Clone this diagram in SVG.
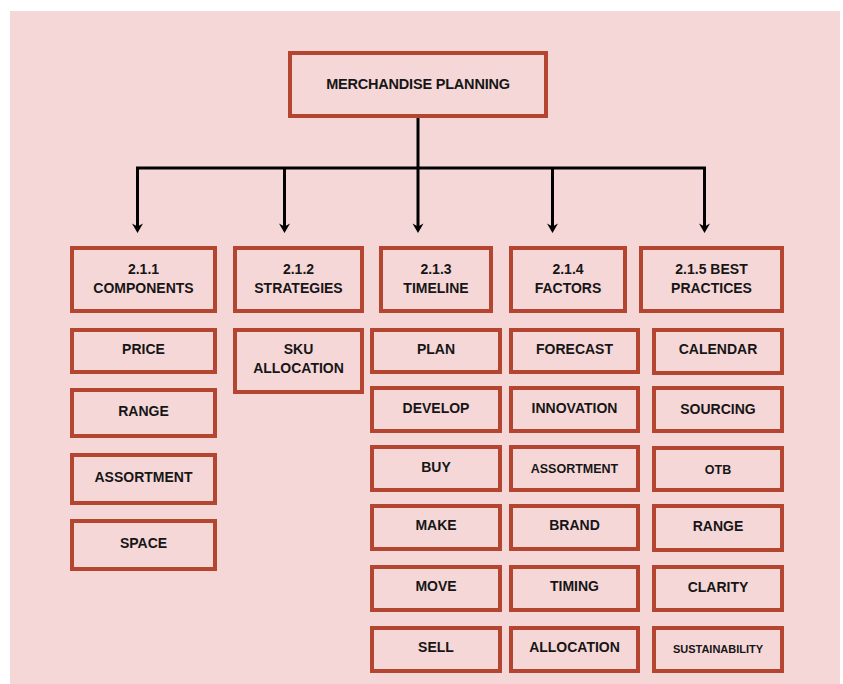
<svg xmlns="http://www.w3.org/2000/svg" width="843" height="684" viewBox="0 0 843 684">
<defs>
<style>
.box{fill:none;stroke:#b44531;stroke-width:4}
.t{font-family:"Liberation Sans",Arial,sans-serif;font-weight:bold;font-size:14px;fill:#161616;text-anchor:middle}
.s{font-size:12.5px}
.xs{font-size:11px}
.ttl{font-size:14.5px;letter-spacing:-0.2px}
.ln{stroke:#000;stroke-width:3;fill:none}
</style>
<marker id="ah" markerWidth="12" markerHeight="12" refX="7" refY="6" orient="auto" markerUnits="userSpaceOnUse" viewBox="0 0 12 12">
<path d="M1.5,0.5 L11,6 L1.5,11.5 L4.5,6 Z" fill="#000"/>
</marker>
</defs>
<rect x="0" y="0" width="843" height="684" fill="#ffffff"/>
<rect x="10" y="11" width="830" height="673" fill="#f6d7d8"/>

<g id="connectors">
<line class="ln" x1="418" y1="117" x2="418" y2="168"/>
<line class="ln" x1="136" y1="168" x2="706" y2="168"/>
<line class="ln" x1="137.5" y1="168" x2="137.5" y2="229" marker-end="url(#ah)"/>
<line class="ln" x1="284.5" y1="168" x2="284.5" y2="229" marker-end="url(#ah)"/>
<line class="ln" x1="418" y1="168" x2="418" y2="229" marker-end="url(#ah)"/>
<line class="ln" x1="552.5" y1="168" x2="552.5" y2="229" marker-end="url(#ah)"/>
<line class="ln" x1="704.5" y1="168" x2="704.5" y2="229" marker-end="url(#ah)"/>
</g>

<g id="root"><rect class="box" x="290" y="53" width="256" height="63"/><text class="t ttl" x="418" y="89">MERCHANDISE PLANNING</text></g>

<g id="h1"><rect class="box" x="72" y="248" width="143" height="63"/><text class="t" x="143.5" y="274">2.1.1</text><text class="t" x="143.5" y="293">COMPONENTS</text></g>
<g id="h2"><rect class="box" x="235" y="248" width="127" height="63"/><text class="t" x="298.5" y="274">2.1.2</text><text class="t" x="298.5" y="293">STRATEGIES</text></g>
<g id="h3"><rect class="box" x="381" y="248" width="110" height="63"/><text class="t" x="436" y="274">2.1.3</text><text class="t" x="436" y="293">TIMELINE</text></g>
<g id="h4"><rect class="box" x="511" y="248" width="114" height="63"/><text class="t" x="568" y="274">2.1.4</text><text class="t" x="568" y="293">FACTORS</text></g>
<g id="h5"><rect class="box" x="641" y="248" width="141" height="63"/><text class="t" x="711.5" y="274">2.1.5 BEST</text><text class="t" x="711.5" y="293">PRACTICES</text></g>

<g id="c1-price"><rect class="box" x="72" y="330" width="143" height="42"/><text class="t" x="143.5" y="354">PRICE</text></g>
<g id="c1-range"><rect class="box" x="72" y="390" width="143" height="46"/><text class="t" x="143.5" y="416">RANGE</text></g>
<g id="c1-assortment"><rect class="box" x="72" y="455" width="143" height="48"/><text class="t" x="143.5" y="482">ASSORTMENT</text></g>
<g id="c1-space"><rect class="box" x="72" y="521" width="143" height="48"/><text class="t" x="143.5" y="548">SPACE</text></g>

<g id="c2-sku"><rect class="box" x="235" y="330" width="127" height="62"/><text class="t" x="298.5" y="354">SKU</text><text class="t" x="298.5" y="373">ALLOCATION</text></g>

<g id="c3-plan"><rect class="box" x="372" y="330" width="128" height="42"/><text class="t" x="436" y="354">PLAN</text></g>
<g id="c3-develop"><rect class="box" x="372" y="388" width="128" height="43"/><text class="t" x="436" y="413">DEVELOP</text></g>
<g id="c3-buy"><rect class="box" x="372" y="447" width="128" height="43"/><text class="t" x="436" y="472">BUY</text></g>
<g id="c3-make"><rect class="box" x="372" y="506" width="128" height="43"/><text class="t" x="436" y="530">MAKE</text></g>
<g id="c3-move"><rect class="box" x="372" y="567" width="128" height="43"/><text class="t" x="436" y="591">MOVE</text></g>
<g id="c3-sell"><rect class="box" x="372" y="628" width="128" height="43"/><text class="t" x="436" y="652">SELL</text></g>

<g id="c4-forecast"><rect class="box" x="511" y="330" width="127" height="42"/><text class="t" x="574.5" y="354">FORECAST</text></g>
<g id="c4-innovation"><rect class="box" x="511" y="388" width="127" height="43"/><text class="t" x="574.5" y="413">INNOVATION</text></g>
<g id="c4-assortment"><rect class="box" x="511" y="447" width="127" height="43"/><text class="t s" x="574.5" y="473">ASSORTMENT</text></g>
<g id="c4-brand"><rect class="box" x="511" y="506" width="127" height="43"/><text class="t" x="574.5" y="530">BRAND</text></g>
<g id="c4-timing"><rect class="box" x="511" y="567" width="127" height="43"/><text class="t" x="574.5" y="591">TIMING</text></g>
<g id="c4-allocation"><rect class="box" x="511" y="628" width="127" height="43"/><text class="t" x="574.5" y="652">ALLOCATION</text></g>

<g id="c5-calendar"><rect class="box" x="654" y="330" width="128" height="43"/><text class="t" x="718" y="354">CALENDAR</text></g>
<g id="c5-sourcing"><rect class="box" x="654" y="388" width="128" height="43"/><text class="t" x="718" y="414">SOURCING</text></g>
<g id="c5-otb"><rect class="box" x="654" y="448" width="128" height="42"/><text class="t s" x="718" y="474">OTB</text></g>
<g id="c5-range"><rect class="box" x="654" y="506" width="128" height="44"/><text class="t" x="718" y="531">RANGE</text></g>
<g id="c5-clarity"><rect class="box" x="654" y="567" width="128" height="43"/><text class="t" x="718" y="592">CLARITY</text></g>
<g id="c5-sustainability"><rect class="box" x="654" y="628" width="128" height="43"/><text class="t xs" x="718" y="653">SUSTAINABILITY</text></g>
</svg>
